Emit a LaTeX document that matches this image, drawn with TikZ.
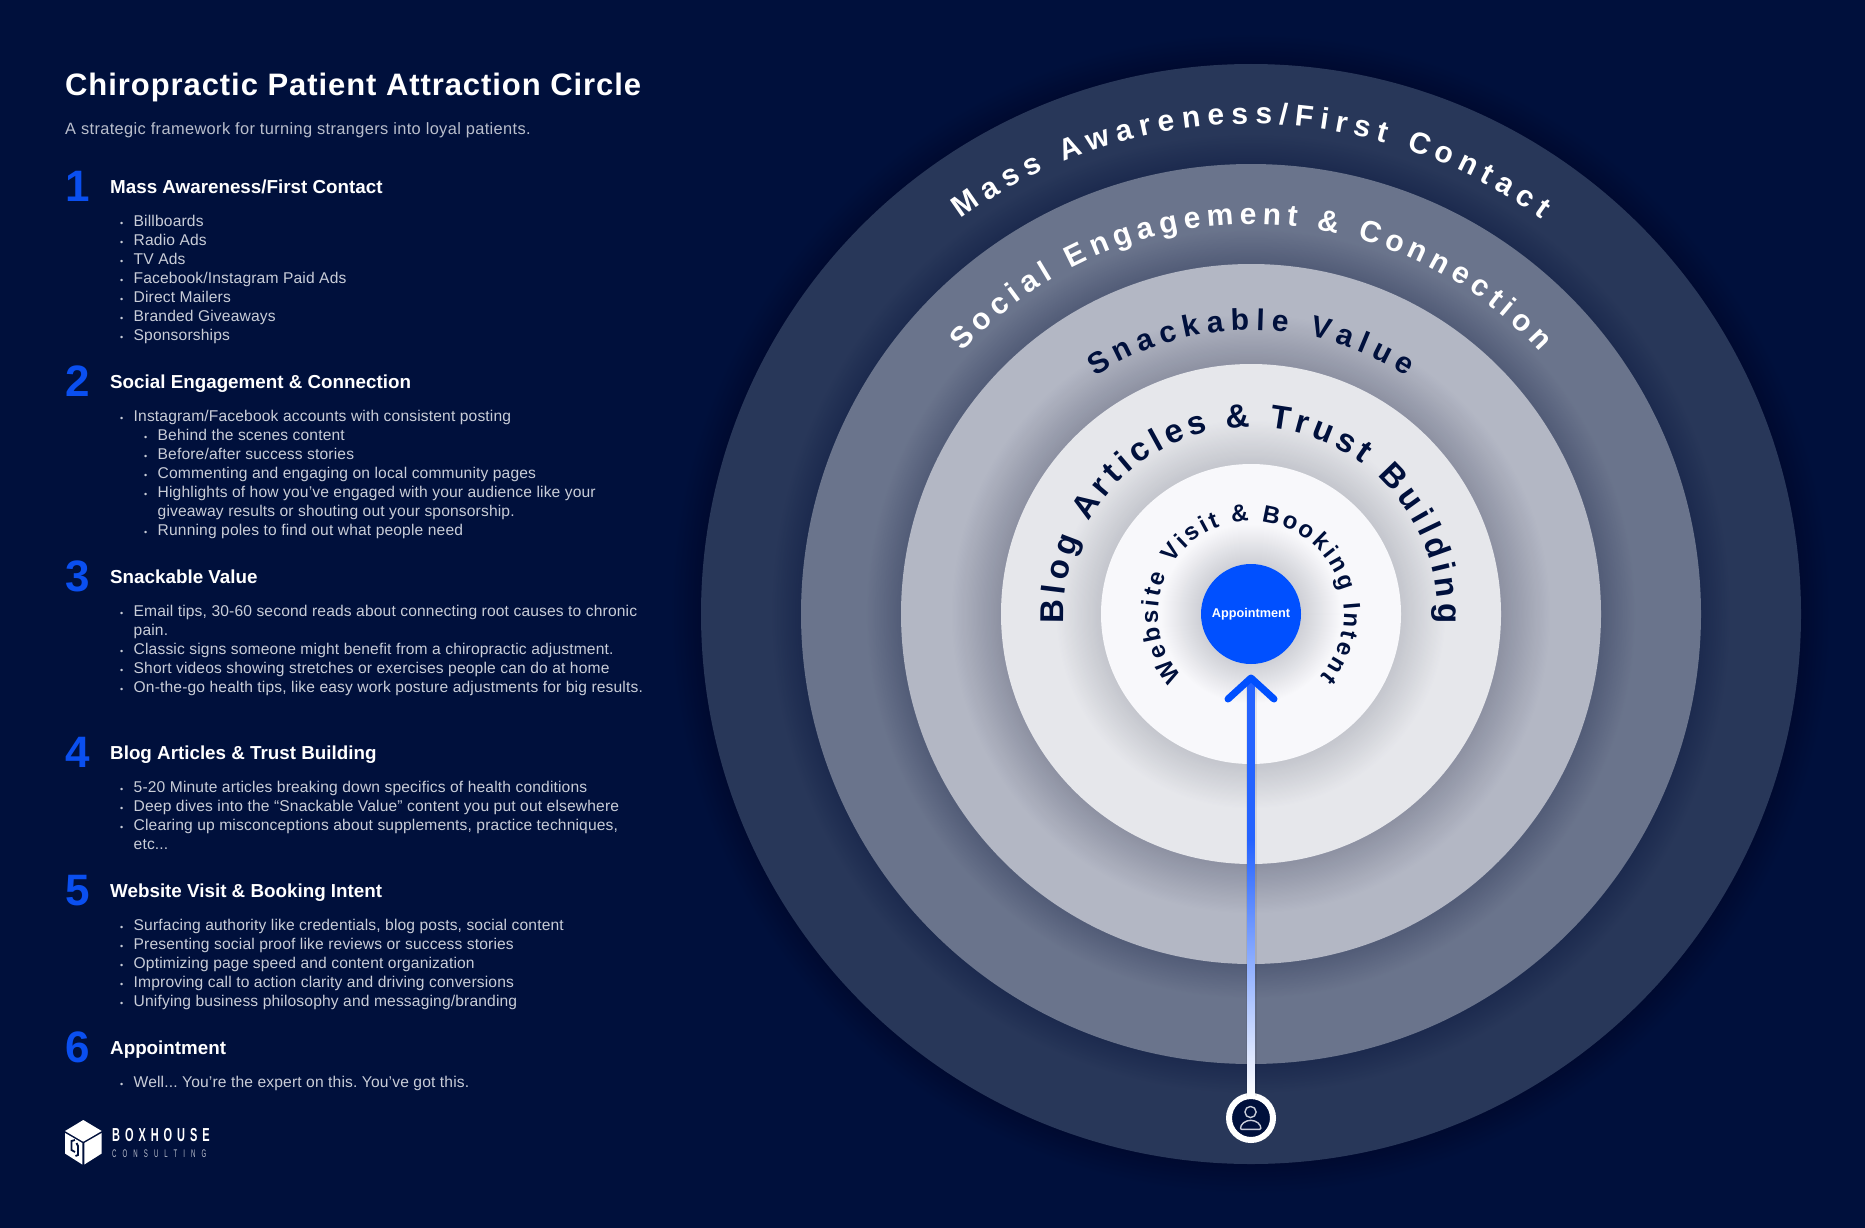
\documentclass[tikz,border=0pt]{standalone}
\usepackage{fontspec}
\setmainfont{Liberation Sans}
\usetikzlibrary{positioning, calc, decorations.text}

\definecolor{bgnavy}{HTML}{00103C}
\definecolor{bgdeep}{HTML}{000A30}
\definecolor{ringa}{HTML}{283759}
\definecolor{ringadeep}{HTML}{1C2A4E}
\definecolor{ringb}{HTML}{6A748C}
\definecolor{ringbdeep}{HTML}{525C77}
\definecolor{ringc}{HTML}{B3B7C4}
\definecolor{ringcdeep}{HTML}{8D91A2}
\definecolor{ringd}{HTML}{E6E7EB}
\definecolor{ringddeep}{HTML}{C4C6CD}
\definecolor{ringe}{HTML}{F8F8FB}
\definecolor{ringedeep}{HTML}{CFD0D6}
\definecolor{apptblue}{HTML}{0050FF}
\definecolor{numblue}{HTML}{0A4FF0}
\definecolor{shaftblue}{HTML}{2563FF}
\definecolor{bodygrey}{HTML}{C9CDD8}
\definecolor{subgrey}{HTML}{B9BECC}

\newcommand{\ringfont}{\bfseries\fontsize{30}{30}\selectfont}
\newcommand{\blogfont}{\bfseries\fontsize{33}{33}\selectfont}
\newcommand{\webfont}{\bfseries\fontsize{24}{24}\selectfont}
\newcommand{\itm}{\makebox[13.5pt][l]{\strut{\fontsize{9}{9}\selectfont\textbullet}}}
\newcommand{\subitm}{\hspace*{24pt}\itm}

\tikzset{
    disc/.style={circle, inner sep=0pt, outer sep=0pt},
    numlabel/.style={anchor=base west, inner sep=0pt, text=numblue, font=\bfseries\fontsize{44}{44}\selectfont},
    headlabel/.style={anchor=base west, inner sep=0pt, text=white, font=\bfseries\fontsize{18.8}{22}\selectfont},
    itemlist/.style={anchor=north west, inner sep=0pt, align=left, text=bodygrey, font=\fontsize{15.6}{19.03}\selectfont\addfontfeature{LetterSpace=1}\frenchspacing},
    ringtext/.style n args={2}{decorate, decoration={text along path, text align=fit to path, text={|#1|#2}}},
    shaftline/.style={draw=shaftblue, line width=7.5pt},
    wingline/.style={draw=apptblue, line width=7pt, line cap=round, line join=round},
    personline/.style={draw=bodygrey, line width=1.4pt, line join=round}
}

\begin{document}
\begin{tikzpicture}[x=1pt, y=1pt]
    \useasboundingbox (0,0) rectangle (1865,-1228);
    \fill[bgnavy] (0,0) rectangle (1865,-1228);
    \coordinate (hub) at (1251,-614);

    % rings, each with a soft dark halo on the ring behind it
    \foreach \rad/\outside/\deep/\spread/\disccol in {
        550/bgnavy/bgdeep/30/ringa,
        450/ringa/ringadeep/30/ringb,
        350/ringb/ringbdeep/35/ringc,
        250/ringc/ringcdeep/50/ringd,
        150/ringd/ringddeep/45/ringe,
        50/ringe/ringedeep/40/apptblue}{
        \foreach \i [evaluate=\i as \mixp using 2.5*\i] in {40,39,...,1}{
            \fill[\outside!\mixp!\deep] (hub) circle[radius=\rad+\i*\spread/40];
        }
        \node[disc, fill=\disccol, minimum size=2*\rad pt] (disc\rad) at (hub) {};
    }
    \node[inner sep=0pt, text=white, font=\bfseries\fontsize{12.7}{13}\selectfont] (appt) at (hub) {Appointment};

    % curved ring titles
    \path[ringtext={\ringfont\color{white}}{Mass Awareness/First Contact}]
        ([shift={(126.3:490)}]hub) arc[start angle=126.3, end angle=53.7, radius=490];
    \path[ringtext={\ringfont\color{white}}{Social Engagement {\&} Connection}]
        ([shift={(137.8:390)}]hub) arc[start angle=137.8, end angle=42.2, radius=390];
    \path[ringtext={\ringfont\color{bgnavy}}{Snackable Value}]
        ([shift={(123.3:284)}]hub) arc[start angle=123.3, end angle=56.7, radius=284];
    \path[ringtext={\blogfont\color{bgnavy}}{Blog Articles {\&} Trust Building}]
        ([shift={(183:187)}]hub) arc[start angle=183, end angle=-3, radius=187];
    \path[ringtext={\webfont\color{bgnavy}}{Website Visit {\&} Booking Intent}]
        ([shift={(222:93)}]hub) arc[start angle=222, end angle=-42, radius=93];

    % patient badge and arrow
    \node[disc, fill=bgnavy, draw=white, line width=6pt, minimum size=44pt] (patient) at (1251,-1118) {};
    \coordinate (tip) at (1251,-678);
    \coordinate (fade) at (1251,-840);
    \coordinate (wingl) at (1228,-699);
    \coordinate (wingr) at (1274,-699);
    \draw[black, opacity=.07, line width=11pt] (patient.north) -- (tip);
    \draw[shaftline] (patient.north) -- (tip);
    \shade[top color=shaftblue, middle color=blue!25!bodygrey!80!white, bottom color=white]
        ([xshift=-3.75pt]fade) rectangle ([xshift=3.75pt]patient.north);
    \draw[wingline] (wingl) -- (tip) -- (wingr);
    \draw[personline] (1250.5,-1112) circle[radius=5.6];
    \draw[personline, rounded corners=1pt] (1240.5,-1129.3) arc[start angle=180, end angle=0, x radius=10.2, y radius=9] -- cycle;

    % heading block
    \node[anchor=base west, inner sep=0pt, text=white, font=\bfseries\fontsize{31}{34}\selectfont\addfontfeature{LetterSpace=3}] (title) at (65,-96) {Chiropractic Patient Attraction Circle};
    \node[anchor=base west, inner sep=0pt, text=subgrey, font=\fontsize{16.4}{20}\selectfont\addfontfeature{LetterSpace=2.2}] (subtitle) at (65,-135) {A strategic framework for turning strangers into loyal patients.};

    % section 1
    \node[numlabel] (numa) at (65,-201) {1};
    \node[headlabel] (heada) at (110,-193) {Mass Awareness/First Contact};
    \node[itemlist] (lista) at ([shift={(10,-20)}]heada.base west) {
        \itm Billboards\\ \itm Radio Ads\\ \itm TV Ads\\ \itm Facebook/Instagram Paid Ads\\
        \itm Direct Mailers\\ \itm Branded Giveaways\\ \itm Sponsorships};

    % section 2
    \node[numlabel] (numb) at (65,-396) {2};
    \node[headlabel] (headb) at (110,-388) {Social Engagement \& Connection};
    \node[itemlist] (listb) at ([shift={(10,-20)}]headb.base west) {
        \itm Instagram/Facebook accounts with consistent posting\\
        \subitm Behind the scenes content\\
        \subitm Before/after success stories\\
        \subitm Commenting and engaging on local community pages\\
        \subitm Highlights of how you’ve engaged with your audience like your\\
        \hspace*{37.5pt}\strut giveaway results or shouting out your sponsorship.\\
        \subitm Running poles to find out what people need};

    % section 3
    \node[numlabel] (numc) at (65,-591) {3};
    \node[headlabel] (headc) at (110,-583) {Snackable Value};
    \node[itemlist] (listc) at ([shift={(10,-20)}]headc.base west) {
        \itm Email tips, 30-60 second reads about connecting root causes to chronic\\
        \hspace*{13.5pt}\strut pain.\\
        \itm Classic signs someone might benefit from a chiropractic adjustment.\\
        \itm Short videos showing stretches or exercises people can do at home\\
        \itm On-the-go health tips, like easy work posture adjustments for big results.};

    % section 4
    \node[numlabel] (numd) at (65,-767) {4};
    \node[headlabel] (headd) at (110,-759) {Blog Articles \& Trust Building};
    \node[itemlist] (listd) at ([shift={(10,-20)}]headd.base west) {
        \itm 5-20 Minute articles breaking down specifics of health conditions\\
        \itm Deep dives into the “Snackable Value” content you put out elsewhere\\
        \itm Clearing up misconceptions about supplements, practice techniques,\\
        \hspace*{13.5pt}\strut etc...};

    % section 5
    \node[numlabel] (nume) at (65,-905) {5};
    \node[headlabel] (heade) at (110,-897) {Website Visit \& Booking Intent};
    \node[itemlist] (liste) at ([shift={(10,-20)}]heade.base west) {
        \itm Surfacing authority like credentials, blog posts, social content\\
        \itm Presenting social proof like reviews or success stories\\
        \itm Optimizing page speed and content organization\\
        \itm Improving call to action clarity and driving conversions\\
        \itm Unifying business philosophy and messaging/branding};

    % section 6
    \node[numlabel] (numf) at (65,-1062) {6};
    \node[headlabel] (headf) at (110,-1054) {Appointment};
    \node[itemlist] (listf) at ([shift={(10,-20)}]headf.base west) {
        \itm Well... You’re the expert on this. You’ve got this.};

    % logo
    \fill[white] (83.3,-1120) -- (101.7,-1131) -- (83.3,-1141.7) -- (65,-1131) -- cycle;
    \fill[white] (65,-1133) -- (82.3,-1143) -- (82.3,-1164.5) -- (65,-1153.5) -- cycle;
    \fill[white] (84.3,-1143) -- (101.7,-1133) -- (101.7,-1153.5) -- (84.3,-1164.5) -- cycle;
    \draw[bgnavy, line width=1.8pt] (75,-1140) -- (71.5,-1141) -- (71.5,-1150) -- (75,-1152);
    \draw[bgnavy, line width=1.8pt] (76.5,-1143) -- (78,-1146) -- (78,-1155) -- (75.5,-1156);
    \node[anchor=base west, inner sep=0pt, xscale=.585, text=white, font=\bfseries\fontsize{18.8}{20}\selectfont\addfontfeature{LetterSpace=45}] (logotop) at (112,-1141.7) {BOXHOUSE};
    \node[anchor=base west, inner sep=0pt, xscale=.553, text=subgrey, font=\fontsize{11}{12}\selectfont\addfontfeature{LetterSpace=100}] (logosub) at (112,-1157.3) {CONSULTING};
\end{tikzpicture}
\end{document}
